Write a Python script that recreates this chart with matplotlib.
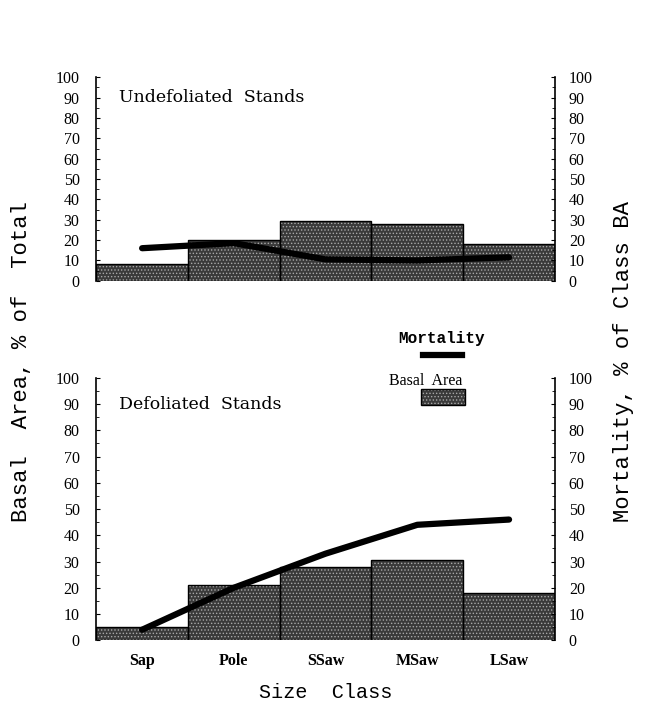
import matplotlib.pyplot as plt
import numpy as np

# Data
classes = ['Sap', 'Pole', 'SSaw', 'MSaw', 'LSaw']
ba_undef = [8, 20, 29.5, 28, 18]
mort_undef = [16, 18.5, 10.5, 10, 11.5]
ba_def = [5, 21, 28, 30.5, 18]
mort_def = [4, 20, 33, 44, 46]
yticks = [0, 10, 20, 30, 40, 50, 60, 70, 80, 90, 100]

plt.rcParams['font.family'] = 'Liberation Serif'
plt.rcParams['hatch.linewidth'] = 0.6

fig = plt.figure(figsize=(6.46, 7.09), dpi=100)
ax_top = fig.add_axes([0.149, 0.604, 0.71, 0.287])
ax_bot = fig.add_axes([0.149, 0.097, 0.71, 0.37])

x = np.arange(len(classes))


def draw_panel(ax, ba, mort, title):
    # stippled bars: dark fill with light dots, black outline on top
    ax.bar(x, ba, width=1.0, color='#3a3a3a', edgecolor='#a8a8a8',
           hatch='.....', linewidth=0, zorder=1)
    ax.bar(x, ba, width=1.0, fill=False, edgecolor='black', linewidth=1.0, zorder=2)
    ax.set_xlim(-0.5, 4.5)
    ax.set_ylim(0, 100)
    ax.set_yticks(yticks)
    ax.set_yticks(np.arange(0, 101, 5), minor=True)
    ax.tick_params(axis='y', direction='in', length=3, labelsize=11.5, pad=12)
    ax.tick_params(axis='y', which='minor', direction='in', length=2)
    ax.spines['top'].set_visible(False)
    ax.spines['bottom'].set_visible(False)
    ax.spines['left'].set_linewidth(1.2)
    ax.spines['right'].set_visible(False)

    ax2 = ax.twinx()
    ax2.plot(x, mort, color='black', linewidth=4.5, solid_capstyle='round', zorder=3)
    ax2.set_ylim(0, 100)
    ax2.set_yticks(yticks)
    ax2.set_yticks(np.arange(0, 101, 5), minor=True)
    ax2.tick_params(axis='y', direction='in', length=3, labelsize=11.5, pad=10)
    ax2.tick_params(axis='y', which='minor', direction='in', length=2)
    for s in ['top', 'bottom', 'left']:
        ax2.spines[s].set_visible(False)
    ax2.spines['right'].set_linewidth(1.2)

    ax.text(0.05, 0.9, title, transform=ax.transAxes, fontsize=12.5,
            family='DejaVu Serif', ha='left', va='center')
    return ax2


draw_panel(ax_top, ba_undef, mort_undef, 'Undefoliated  Stands')
draw_panel(ax_bot, ba_def, mort_def, 'Defoliated  Stands')

ax_top.set_xticks([])
ax_bot.set_xticks(x)
ax_bot.set_xticklabels(classes, fontsize=11.5, fontweight='bold')
ax_bot.tick_params(axis='x', length=0, pad=9)
ax_bot.set_xlabel('Size  Class', fontsize=14.5, family='Liberation Mono', labelpad=10)

# axis titles spanning both panels
fig.text(0.034, 0.49, 'Basal  Area, % of  Total', rotation=90, fontsize=16,
         family='Liberation Mono', ha='center', va='center')
fig.text(0.965, 0.49, 'Mortality, % of Class BA', rotation=90, fontsize=16,
         family='Liberation Mono', ha='center', va='center')

# hand-made legend between the panels
fig.text(0.684, 0.523, 'Mortality', fontsize=11.5, fontweight='bold',
         family='Liberation Mono', ha='center', va='center')
fig.add_artist(plt.Line2D([0.655, 0.715], [0.499, 0.499], color='black',
                          linewidth=4.5, transform=fig.transFigure))
fig.text(0.602, 0.462, 'Basal  Area', fontsize=11.5, ha='left', va='center')
fig.add_artist(plt.Rectangle((0.652, 0.429), 0.068, 0.022, facecolor='#3a3a3a',
                             edgecolor='#a8a8a8', hatch='.....', linewidth=0,
                             transform=fig.transFigure))
fig.add_artist(plt.Rectangle((0.652, 0.429), 0.068, 0.022, fill=False,
                             edgecolor='black', linewidth=1.0,
                             transform=fig.transFigure))

plt.savefig('out.png', dpi=100)
